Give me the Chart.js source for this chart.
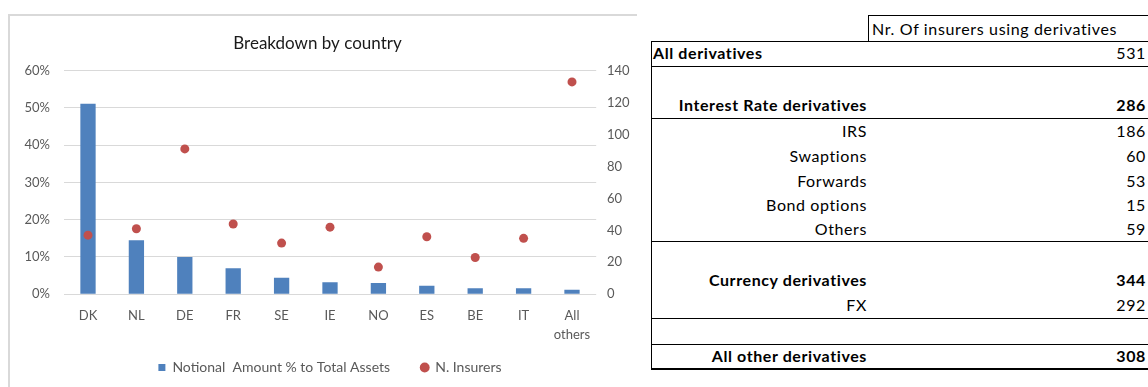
<!DOCTYPE html>
<html>
<head>
<meta charset="utf-8">
<script src="https://cdn.jsdelivr.net/npm/chart.js@4/dist/chart.umd.min.js"></script>
<style>
  html, body { margin: 0; padding: 0; background: #fff; overflow: hidden; }
  body { width: 1148px; height: 387px; position: relative; font-family: Lato, "Liberation Sans", sans-serif; }
  #frame { position: absolute; left: 8px; top: 14px; width: 629px; height: 380px;
           border-top: 2px solid #D9D9D9; border-left: 2px solid #D9D9D9; box-sizing: border-box; }
  #chartWrap { position: absolute; left: 0; top: 0; width: 640px; height: 387px; }
  #hdr { position: absolute; left: 868px; top: 15px; width: 300px; height: 26px; box-sizing: border-box;
         border-top: 1px solid #000; border-left: 1px solid #000; font-size: 16px; letter-spacing: 0.65px; line-height: 25px; padding-left: 3px; color: #000; white-space: nowrap; }
  #tbl { position: absolute; left: 651px; top: 41px; width: 502px; border-collapse: collapse; font-size: 16px; letter-spacing: 0.6px; color: #000; }
  #tbl td { padding: 0; white-space: nowrap; line-height: 1; }
  #tbl td.lab { width: 214px; text-align: right; padding-right: 6px; }
  #tbl td.val { text-align: right; padding-right: 7px; }
  #tbl td.left { text-align: left; padding-left: 2px; }
  #tbl tr.b td { font-weight: bold; }
  #tbl tr.bl td.lab { font-weight: bold; }
  #tbl tr.bb td { border-bottom: 1px solid #000; }
  #tbl tr.last td { border-bottom: 2px solid #000; }
  #tblBox { position: absolute; left: 651px; top: 41px; width: 510px; height: 329px; box-sizing: border-box;
            border-left: 1px solid #000; border-top: 1px solid #000; pointer-events: none; }
</style>
</head>
<body>
<div id="frame"></div>
<div id="chartWrap"><canvas id="c" width="640" height="387"></canvas></div>
<div id="hdr"></div>
<table id="tbl"></table>
<div id="tblBox"></div>
<script>
// ---- chart data ----
const categories = ['DK', 'NL', 'DE', 'FR', 'SE', 'IE', 'NO', 'ES', 'BE', 'IT', ['All', 'others']];
const notionalPct = [51.1, 14.5, 10.0, 7.0, 4.4, 3.2, 3.0, 2.3, 1.6, 1.6, 1.2];
const nInsurers = [37, 41, 91, 44, 32, 42, 17, 36, 23, 35, 133];
const leftTicks = [0, 10, 20, 30, 40, 50, 60];
const rightTicks = [0, 20, 40, 60, 80, 100, 120, 140];
const chartTitle = 'Breakdown by country';
const seriesNames = ['Notional  Amount % to Total Assets', 'N. Insurers'];

// ---- table data ----
const tableHeader = 'Nr. Of insurers using derivatives';
const tableLabels = ['All derivatives', '', 'Interest Rate derivatives', 'IRS', 'Swaptions', 'Forwards', 'Bond options', 'Others', '', 'Currency derivatives', 'FX', '', 'All other derivatives'];
const tableValues = ['531', '', '286', '186', '60', '53', '15', '59', '', '344', '292', '', '308'];

// table styling (layout only)
const rowHeights = [25, 26, 26, 25, 25, 25, 24, 24, 26, 26, 25, 26, 25];
const rowClasses = ['bl bb', '', 'b bb', '', '', '', '', 'bb', '', 'b', 'bb', 'bb', 'b last'];

document.getElementById('hdr').textContent = tableHeader;
const tbl = document.getElementById('tbl');
tableLabels.forEach((lab, i) => {
  const tr = document.createElement('tr');
  tr.className = rowClasses[i];
  tr.style.height = rowHeights[i] + 'px';
  const td1 = document.createElement('td');
  td1.className = 'lab' + (i === 0 ? ' left' : '');
  td1.textContent = lab;
  const td2 = document.createElement('td');
  td2.className = 'val';
  td2.textContent = tableValues[i];
  tr.appendChild(td1); tr.appendChild(td2);
  tbl.appendChild(tr);
});

const FONT = 'Lato, "Liberation Sans", sans-serif';
const tickColor = '#595959';

new Chart(document.getElementById('c'), {
  data: {
    labels: categories,
    datasets: [
      {
        type: 'bar',
        label: seriesNames[0],
        data: notionalPct,
        backgroundColor: '#4F81BD',
        borderWidth: 0,
        yAxisID: 'y',
        barPercentage: 0.316,
        categoryPercentage: 1.0,
        pointStyle: 'rect',
        order: 2
      },
      {
        type: 'line',
        label: seriesNames[1],
        data: nInsurers,
        showLine: false,
        pointRadius: 4.5,
        pointHoverRadius: 4.5,
        pointBackgroundColor: '#C0504D',
        pointBorderColor: '#C0504D',
        pointBorderWidth: 0,
        backgroundColor: '#C0504D',
        borderColor: '#C0504D',
        pointStyle: 'circle',
        yAxisID: 'y1',
        order: 1
      }
    ]
  },
  options: {
    responsive: false,
    animation: false,
    devicePixelRatio: 1,
    layout: { padding: { left: 0, right: 5, top: 0, bottom: 2.5 } },
    plugins: {
      tooltip: { enabled: false },
      title: {
        display: true,
        text: chartTitle,
        color: '#1a1a1a',
        font: { family: FONT, size: 17, weight: 'normal', lineHeight: 1.2 },
        padding: { top: 33.8, bottom: 16.5 }
      },
      legend: {
        display: true,
        position: 'bottom',
        fullSize: false,
        labels: {
          usePointStyle: true,
          boxWidth: 7,
          boxHeight: 7,
          padding: 16.8,
          color: tickColor,
          font: { family: FONT, size: 14 },
          sort: (a, b) => a.datasetIndex - b.datasetIndex,
          generateLabels: (chart) => {
            const items = Chart.defaults.plugins.legend.labels.generateLabels(chart);
            items.forEach(it => { if (it.datasetIndex === 0) it.text = it.text + '    '; });
            return items;
          }
        }
      }
    },
    scales: {
      x: {
        grid: { display: false, drawTicks: false },
        border: { display: false },
        ticks: { color: tickColor, font: { family: FONT, size: 13, lineHeight: 1.4 }, padding: 12.9, maxRotation: 0, autoSkip: false },
        afterFit: (s) => { s.height = 49.5; }
      },
      y: {
        position: 'left',
        min: leftTicks[0],
        max: leftTicks[leftTicks.length - 1],
        afterBuildTicks: (s) => { s.ticks = leftTicks.map(v => ({ value: v })); },
        grid: { color: '#D9D9D9', lineWidth: 1, drawTicks: false },
        border: { display: false },
        ticks: { color: tickColor, font: { family: FONT, size: 13 }, padding: 13.8, callback: (v) => v + '%' },
        afterFit: (s) => { s.width = 63.8; }
      },
      y1: {
        position: 'right',
        min: rightTicks[0],
        max: rightTicks[rightTicks.length - 1],
        afterBuildTicks: (s) => { s.ticks = rightTicks.map(v => ({ value: v })); },
        grid: { display: false, drawTicks: false },
        border: { display: false },
        ticks: { color: tickColor, font: { family: FONT, size: 13 }, padding: 10.8 },
        afterFit: (s) => { s.width = 38.8; }
      }
    }
  }
});
</script>
</body>
</html>
